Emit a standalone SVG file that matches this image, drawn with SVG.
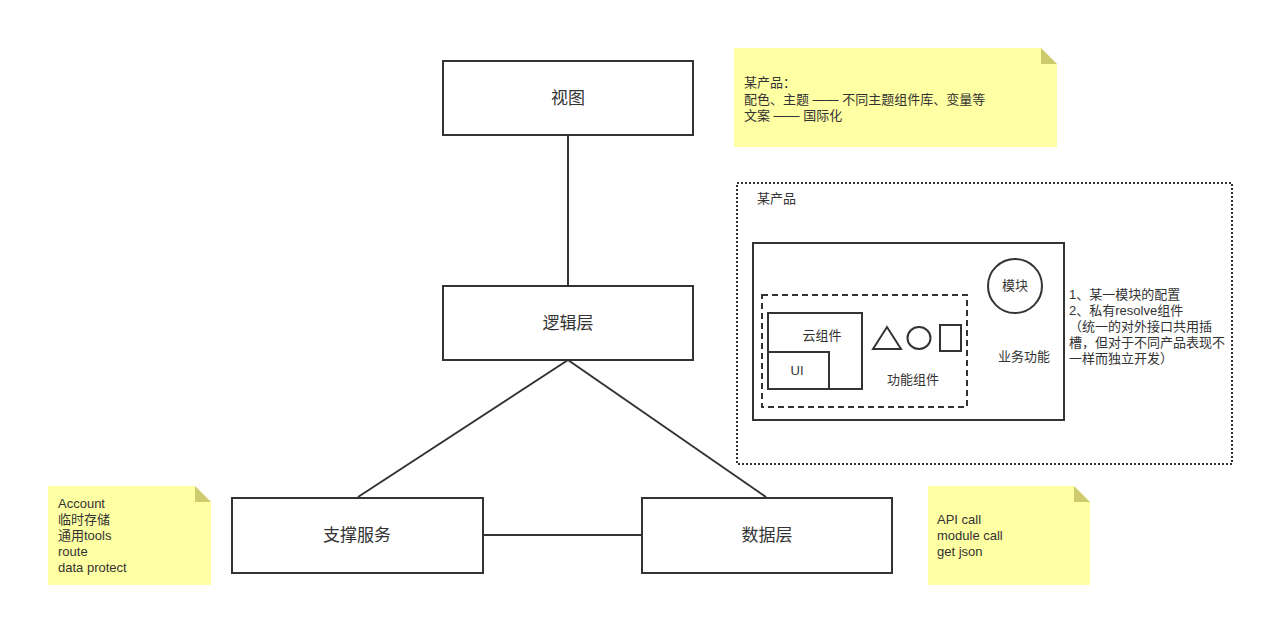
<svg xmlns="http://www.w3.org/2000/svg" width="1264" height="617" viewBox="0 0 1264 617">
<style>
.box{fill:#fff;stroke:#333;stroke-width:2}
.ln{fill:none;stroke:#333;stroke-width:2}
.t{font-family:"Liberation Sans","Noto Sans CJK SC",sans-serif;fill:#333}
.big{font-size:17px;text-anchor:middle;dominant-baseline:central}
.sm{font-size:13px}
.note{fill:#ffffa3}
.fold{fill:#cdcb6e}
</style>
<rect width="1264" height="617" fill="#fff"/>
<g id="connectors">
<line class="ln" x1="568" y1="135" x2="568" y2="286"/>
<line class="ln" x1="568" y1="360" x2="358" y2="497"/>
<line class="ln" x1="568" y1="360" x2="766" y2="497"/>
<line class="ln" x1="483" y1="535" x2="642" y2="535"/>
</g>
<g id="view"><rect class="box" x="443" y="61" width="250" height="74"/><text class="t big" x="568" y="98">视图</text></g>
<g id="logic"><rect class="box" x="443" y="286" width="250" height="74"/><text class="t big" x="568" y="323">逻辑层</text></g>
<g id="support"><rect class="box" x="232" y="498" width="251" height="75"/><text class="t big" x="357" y="535">支撑服务</text></g>
<g id="data"><rect class="box" x="642" y="498" width="250" height="75"/><text class="t big" x="767" y="535">数据层</text></g>
<g id="note-top">
<path class="note" d="M734 48H1041L1057 64V147H734Z"/><path class="fold" d="M1041 48L1057 64H1041Z"/>
<text class="t sm" x="744" y="87">某产品：</text>
<text class="t sm" x="744" y="104">配色、主题 —— 不同主题组件库、变量等</text>
<text class="t sm" x="744" y="120">文案 —— 国际化</text>
</g>
<g id="note-left">
<path class="note" d="M48 486H195L211 502V585H48Z"/><path class="fold" d="M195 486L211 502H195Z"/>
<text class="t sm" x="58" y="508">Account</text>
<text class="t sm" x="58" y="524">临时存储</text>
<text class="t sm" x="58" y="540">通用tools</text>
<text class="t sm" x="58" y="556">route</text>
<text class="t sm" x="58" y="572">data protect</text>
</g>
<g id="note-right">
<path class="note" d="M928 486H1074L1090 502V585H928Z"/><path class="fold" d="M1074 486L1090 502H1074Z"/>
<text class="t sm" x="937" y="524">API call</text>
<text class="t sm" x="937" y="540">module call</text>
<text class="t sm" x="937" y="556">get json</text>
</g>
<g id="product">
<rect x="737" y="183" width="495" height="281" fill="none" stroke="#333" stroke-width="2" stroke-dasharray="2 2"/>
<text class="t sm" x="757" y="203">某产品</text>
</g>
<g id="business">
<rect class="box" x="753" y="243" width="311" height="177"/>
<text class="t sm" x="1024" y="361" text-anchor="middle">业务功能</text>
</g>
<g id="module"><circle class="ln" cx="1015" cy="286" r="27"/><text class="t sm" x="1015" y="290" text-anchor="middle">模块</text></g>
<g id="func">
<rect x="762" y="295" width="205" height="112" fill="none" stroke="#333" stroke-width="2" stroke-dasharray="6 4"/>
<text class="t sm" x="913" y="384" text-anchor="middle">功能组件</text>
</g>
<g id="cloud"><rect class="ln" x="768" y="313" width="94" height="76"/><text class="t sm" x="822" y="340" text-anchor="middle">云组件</text></g>
<g id="ui"><rect class="ln" x="768" y="352" width="61" height="37"/><text class="t sm" x="797" y="375" text-anchor="middle">UI</text></g>
<g id="shapes">
<path class="ln" d="M873 349L887 327L901 349Z"/>
<ellipse class="ln" cx="919" cy="338" rx="11.5" ry="11"/>
<rect class="ln" x="940" y="325" width="21" height="26"/>
</g>
<g id="side-text">
<text class="t sm" x="1069" y="299">1、某一模块的配置</text>
<text class="t sm" x="1069" y="315">2、私有resolve组件</text>
<text class="t sm" x="1069" y="331">（统一的对外接口共用插</text>
<text class="t sm" x="1069" y="347">槽，但对于不同产品表现不</text>
<text class="t sm" x="1069" y="363">一样而独立开发）</text>
</g>
</svg>
